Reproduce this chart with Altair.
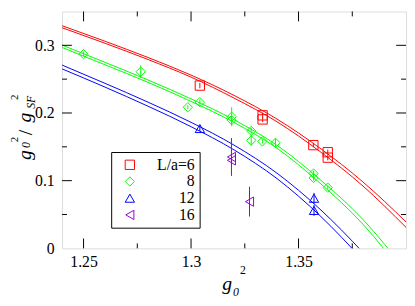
import altair as alt
import pandas as pd

# ---------------- data ----------------
series = ["L/a=6", "8", "12", "16"]
colors = ["#ff0000", "#00ff00", "#0000ff", "#9400d3"]
shapes = ["square", "diamond", "triangle-up", "triangle-left"]

# L/a = 6 (red squares)
x6 = [1.3041, 1.3333, 1.3333, 1.3569, 1.3636, 1.3636]
y6 = [0.2405, 0.1965, 0.1905, 0.1525, 0.1420, 0.1340]
e6 = [0.004, 0.004, 0.004, 0.003, 0.004, 0.004]

# L/a = 8 (green diamonds)
x8 = [1.2500, 1.2766, 1.2985, 1.3041, 1.3189, 1.3189, 1.3280, 1.3280, 1.3332, 1.3393, 1.3570, 1.3570, 1.3636]
y8 = [0.2870, 0.2610, 0.2085, 0.2160, 0.1945, 0.1895, 0.1735, 0.1595, 0.1580, 0.1560, 0.1105, 0.1040, 0.0897]
e8 = [0.003, 0.0095, 0.003, 0.004, 0.014, 0.006, 0.005, 0.008, 0.003, 0.006, 0.004, 0.004, 0.003]

# L/a = 12 (blue triangles)
x12 = [1.3041, 1.3572, 1.3572]
y12 = [0.1770, 0.0740, 0.0560]
e12 = [0.004, 0.008, 0.008]

# L/a = 16 (violet left triangles)
x16 = [1.3188, 1.3188, 1.3272]
y16 = [0.1350, 0.1300, 0.0690]
e16 = [0.028, 0.005, 0.022]

# fit curves (two edges of each band)
curve_x = [1.24, 1.26, 1.28, 1.30, 1.32, 1.34, 1.36, 1.38, 1.40]
red_hi = [0.329, 0.306, 0.282, 0.256, 0.226, 0.191, 0.148, 0.098, 0.039]
red_lo = [0.326, 0.303, 0.279, 0.253, 0.222, 0.187, 0.143, 0.092, 0.031]
green_hi = [0.3004, 0.2748, 0.2488, 0.2209, 0.1900, 0.1522, 0.1017, 0.0425, -0.0335]
green_lo = [0.2968, 0.2712, 0.2452, 0.2171, 0.1860, 0.1478, 0.0963, 0.0355, -0.0425]
blue_hi = [0.2708, 0.2438, 0.2160, 0.1862, 0.1525, 0.1110, 0.0578, -0.0062, -0.0782]
blue_lo = [0.2652, 0.2382, 0.2100, 0.1798, 0.1455, 0.1030, 0.0482, -0.0178, -0.0918]

# axis ticks
x_major = [1.25, 1.30, 1.35]
x_minor = [1.275, 1.325, 1.375]
y_major = [0.1, 0.2, 0.3]
y_minor = [0.05, 0.15, 0.25]
y_label_vals = [0.0, 0.1, 0.2, 0.3]

# ---------------- tables ----------------
rows = []
for name, col, xs_, ys_, es_ in [
    (series[0], colors[0], x6, y6, e6),
    (series[1], colors[1], x8, y8, e8),
    (series[2], colors[2], x12, y12, e12),
    (series[3], colors[3], x16, y16, e16),
]:
    for a, b, e in zip(xs_, ys_, es_):
        rows.append({"gx": a, "gy": b, "lo": b - e, "hi": b + e, "L": name, "col": col})
pts = pd.DataFrame(rows)

crows = []
for cname, col, vals in [
    ("red_hi", colors[0], red_hi), ("red_lo", colors[0], red_lo),
    ("green_hi", colors[1], green_hi), ("green_lo", colors[1], green_lo),
    ("blue_hi", colors[2], blue_hi), ("blue_lo", colors[2], blue_lo),
]:
    for a, b in zip(curve_x, vals):
        crows.append({"gx": a, "gy": b, "curve": cname, "col": col})
curves = pd.DataFrame(crows)

W, H = 350, 241
FONT = "Liberation Serif, Times New Roman, serif"

xs = alt.Scale(domain=[1.24, 1.40], nice=False, zero=False)
ys = alt.Scale(domain=[0, 0.35], nice=False, zero=False)

x_axis = alt.Axis(values=x_major, labelExpr="'' + datum.value", title=None, grid=False,
                  domain=False, ticks=False, tickSize=0, labelFont=FONT, labelFontSize=16,
                  labelColor="black", labelPadding=6)
y_axis = alt.Axis(values=y_label_vals, labelExpr="'' + datum.value", title=None, grid=False,
                  domain=False, ticks=False, tickSize=0, labelFont=FONT, labelFontSize=16,
                  labelColor="black", labelPadding=8)

X = lambda f: alt.X(f, scale=xs, axis=x_axis)
Y = lambda f: alt.Y(f, scale=ys, axis=y_axis)

legend = alt.Legend(title=None, orient="none", legendX=50, legendY=143,
                    strokeColor="black", fillColor="white", padding=5,
                    symbolOffset=6, labelAlign="right", labelOffset=58,
                    labelFont=FONT, labelFontSize=16, labelColor="black",
                    symbolSize=90, symbolStrokeWidth=1, rowPadding=1)

lines = alt.Chart(curves).mark_line(strokeWidth=1, interpolate="monotone", clip=True).encode(
    x=X("gx:Q"), y=Y("gy:Q"), detail="curve:N",
    stroke=alt.Stroke("col:N", scale=None),
)

errs = alt.Chart(pts).mark_rule(strokeWidth=1).encode(
    x=X("gx:Q"), y=Y("lo:Q"), y2="hi:Q",
    stroke=alt.Stroke("col:N", scale=None),
)

points = alt.Chart(pts).mark_point(filled=False, size=90, strokeWidth=1, opacity=1).encode(
    x=X("gx:Q"), y=Y("gy:Q"),
    color=alt.Color("L:N", scale=alt.Scale(domain=series, range=colors), legend=legend),
    shape=alt.Shape("L:N", scale=alt.Scale(domain=series, range=shapes), legend=legend),
)

def tick_layer(vals, orient, length):
    df = pd.DataFrame({"v": vals})
    m = alt.Chart(df).mark_rule(color="black", strokeWidth=1)
    if orient == "bottom":
        return m.encode(x=X("v:Q"), y=alt.value(H), y2=alt.value(H - length))
    if orient == "top":
        return m.encode(x=X("v:Q"), y=alt.value(0), y2=alt.value(length))
    if orient == "left":
        return m.encode(y=Y("v:Q"), x=alt.value(0), x2=alt.value(length))
    return m.encode(y=Y("v:Q"), x=alt.value(W), x2=alt.value(W - length))

ticks = []
for o in ["bottom", "top"]:
    ticks.append(tick_layer(x_major, o, 10))
    ticks.append(tick_layer(x_minor, o, 5))
for o in ["left", "right"]:
    ticks.append(tick_layer(y_major, o, 10))
    ticks.append(tick_layer(y_minor, o, 5))

def txt(s, x, y, size, angle=0, italic=True):
    return alt.Chart(pd.DataFrame({"t": [0]})).mark_text(
        text=s, font=FONT, fontSize=size, fontStyle="italic" if italic else "normal",
        align="left", baseline="alphabetic", angle=angle, color="black",
    ).encode(x=alt.value(x), y=alt.value(y))

dx = 7  # y title kept inside the page margin
titles = [
    # x title  g_0^2
    txt("g", 163, 283, 20),
    txt("0", 174, 289, 12),
    txt("2", 181, 267, 12, italic=False),
    # y title  g_0^2 / g_SF^2  (rotated)
    txt("g", -39 + dx, 151, 20, 270),
    txt("0", -40 + dx, 139, 12, 270),
    txt("2", -52 + dx, 133, 11, 270, italic=False),
    txt("/", -38 + dx, 126, 20, 270, italic=False),
    txt("g", -39 + dx, 113, 20, 270),
    txt("SF", -35 + dx, 99, 12, 270),
    txt("2", -52 + dx, 90, 11, 270, italic=False),
]

chart = alt.layer(lines, errs, points, *ticks, *titles).properties(
    width=W, height=H,
    autosize=alt.AutoSizeParams(type="none"),
    padding={"left": 55, "top": 1, "right": 1, "bottom": 48},
).configure_view(stroke="black", strokeWidth=1).configure(background="white")

chart.save("out.html", embed_options={"renderer": "svg", "actions": False})
